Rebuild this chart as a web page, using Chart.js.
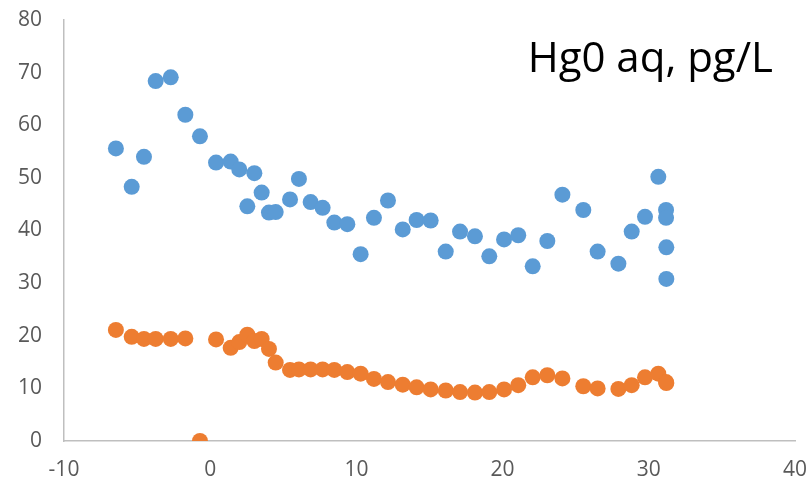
<!DOCTYPE html>
<html>
<head>
<meta charset="utf-8">
<script src="https://cdn.jsdelivr.net/npm/chart.js@4/dist/chart.umd.min.js"></script>
<style>
  html, body { margin: 0; padding: 0; background: #fff; }
  #wrap { width: 811px; height: 483px; }
</style>
</head>
<body>
<div id="wrap"><canvas id="c"></canvas></div>
<script>
var blueX = [-6.45, -5.37, -4.53, -3.73, -2.70, -1.70, -0.70, 0.40, 1.40, 1.99,
  2.54, 3.02, 3.52, 4.02, 4.48, 5.46, 6.07, 6.87, 7.69, 8.49,
  9.38, 10.29, 11.20, 12.16, 13.17, 14.12, 15.08, 16.11, 17.09, 18.11,
  19.09, 20.10, 21.07, 22.06, 23.06, 24.09, 25.52, 26.50, 27.92, 28.83,
  29.74, 30.65, 31.18, 31.18, 31.20, 31.20];
var blueY = [55.6, 48.3, 54.0, 68.4, 69.1, 62.0, 57.9, 52.9, 53.1, 51.6,
  44.6, 50.9, 47.2, 43.4, 43.5, 45.9, 49.8, 45.4, 44.3, 41.5,
  41.2, 35.5, 42.4, 45.7, 40.2, 42.0, 41.9, 36.0, 39.8, 38.9,
  35.1, 38.3, 39.1, 33.2, 38.0, 46.8, 43.9, 36.0, 33.7, 39.8,
  42.6, 50.2, 43.9, 42.4, 36.8, 30.8];

var orangeX = [-6.45, -5.37, -4.53, -3.73, -2.70, -1.70, -0.70, 0.40, 1.40, 1.99,
  2.54, 3.02, 3.52, 4.02, 4.48, 5.46, 6.07, 6.87, 7.69, 8.49,
  9.38, 10.29, 11.20, 12.16, 13.17, 14.12, 15.08, 16.11, 17.09, 18.11,
  19.09, 20.10, 21.07, 22.06, 23.06, 24.09, 25.52, 26.50, 27.92, 28.83,
  29.74, 30.65, 31.18, 31.20];
var orangeY = [21.1, 19.8, 19.4, 19.4, 19.4, 19.5, 0, 19.3, 17.7, 18.8,
  20.2, 19.0, 19.4, 17.5, 14.9, 13.5, 13.6, 13.6, 13.6, 13.5,
  13.1, 12.8, 11.8, 11.2, 10.7, 10.2, 9.8, 9.6, 9.3, 9.2,
  9.3, 9.8, 10.6, 12.1, 12.5, 11.9, 10.4, 10.0, 9.9, 10.6,
  12.1, 12.8, 11.2, 11.0];

var titleText = 'Hg0 aq, pg/L';

function pts(xs, ys) {
  return xs.map(function(x, i) { return { x: x, y: ys[i] }; });
}

// title sits inside the plot, top right
var innerTitle = {
  id: 'innerTitle',
  afterDatasetsDraw: function(chart) {
    var a = chart.chartArea;
    var ctx = chart.ctx;
    ctx.save();
    ctx.font = '42px "Open Sans", sans-serif';
    ctx.fillStyle = '#000';
    ctx.textAlign = 'right';
    ctx.textBaseline = 'alphabetic';
    ctx.fillText(titleText, a.right - 22, a.top + 52);
    ctx.restore();
  }
};

var tickFont = { family: '"Open Sans", sans-serif', size: 21 };

new Chart(document.getElementById('c'), {
  type: 'scatter',
  plugins: [innerTitle],
  data: {
    datasets: [
      {
        data: pts(blueX, blueY),
        backgroundColor: '#5B9BD5',
        borderWidth: 0,
        pointRadius: 8,
      },
      {
        data: pts(orangeX, orangeY),
        backgroundColor: '#ED7D31',
        borderWidth: 0,
        pointRadius: 8,
      },
    ]
  },
  options: {
    responsive: true,
    maintainAspectRatio: false,
    animation: false,
    layout: {
      padding: { top: 20, right: 16, left: 0, bottom: 0 }
    },
    scales: {
      x: {
        min: -10,
        max: 40,
        grid: { display: false, drawTicks: false },
        border: { display: true, color: '#BFBFBF', width: 1.5 },
        ticks: { stepSize: 10, color: '#595959', font: tickFont, padding: 16 },
        afterFit: function(s) {
          s.height = 42;
          s.paddingLeft = 0;
          s.paddingRight = 0;
        }
      },
      y: {
        min: 0,
        max: 80,
        grid: { display: false, drawTicks: false },
        border: { display: true, color: '#BFBFBF', width: 1.5 },
        ticks: { stepSize: 10, color: '#595959', font: tickFont, padding: 22 },
        afterFit: function(s) {
          s.width = 64;
          s.paddingTop = 0;
          s.paddingBottom = 0;
        }
      }
    },
    plugins: {
      legend: { display: false },
      tooltip: { enabled: false },
    }
  }
});
</script>
</body>
</html>
